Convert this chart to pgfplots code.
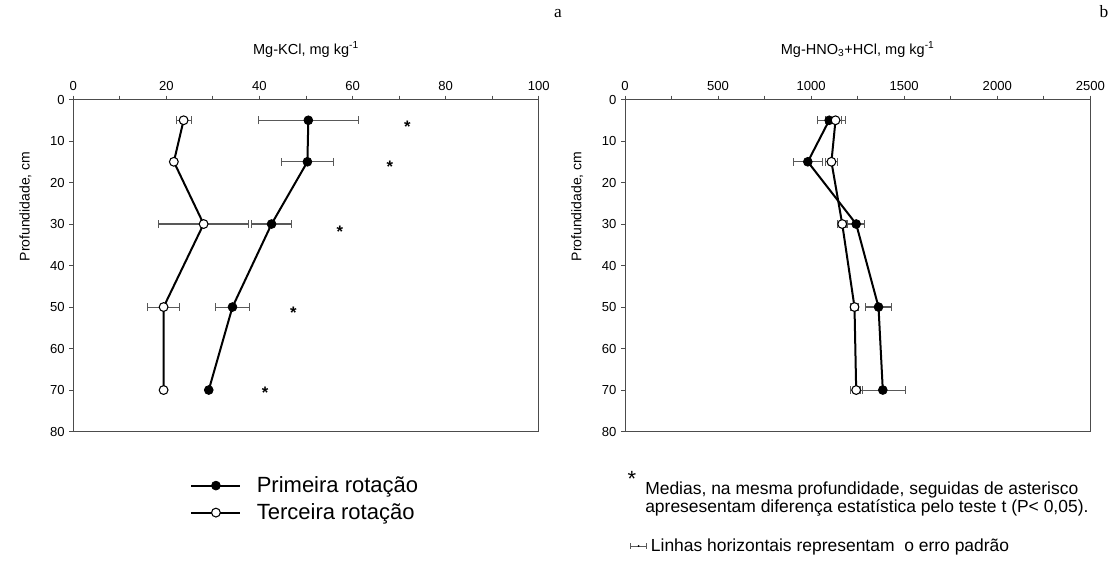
\documentclass[border=0pt]{standalone}
\usepackage{fontspec}
\setmainfont{Liberation Sans}
\newfontfamily\seriffont{Liberation Serif}
\usepackage{pgfplots}
\usepackage{pgfplotstable}
\pgfplotsset{compat=1.18}
\usetikzlibrary{plotmarks}

\pgfplotstableread{
y x e
5 50.5 10.8
15 50.3 5.6
30 42.6 4.3
50 34.2 3.7
70 29.1 0.4
}\aPrim
\pgfplotstableread{
y x e
5 23.7 1.6
15 21.6 0.3
30 28.0 9.6
50 19.4 3.4
70 19.4 0.3
}\aTerc
\pgfplotstableread{
y x
5.6 71.8
15.4 68.0
31.0 57.3
50.5 47.3
69.8 41.2
}\aStar
\pgfplotstableread{
y x e
5 1097 65
15 982 79
30 1242 45
50 1362 70
70 1385 120
}\bPrim
\pgfplotstableread{
y x e
5 1131 52
15 1109 32
30 1167 25
50 1233 23
70 1242 33
}\bTerc

\pgfplotsset{
  myax/.style={
    scale only axis, width=349pt, height=249pt, anchor=south west,
    y dir=reverse, ymin=0, ymax=80, ytick={0,10,...,80},
    minor x tick num=1,
    xtick pos=right, xticklabel pos=right, ytick pos=left,
    tick align=outside, major tick length=3pt, minor tick length=3pt,
    axis line style={black!70, line width=0.75pt},
    every tick/.style={black!70, line width=0.75pt},
    tick label style={font=\fontsize{9.8}{11}\selectfont},
    /pgf/number format/assume math mode=true,
    /pgf/number format/1000 sep={},
    title style={font=\fontsize{10.9}{12}\selectfont, at={(0.5,1)}, anchor=base, yshift=28pt},
    ylabel={Profundidade, cm},
    ylabel style={font=\fontsize{10.5}{12}\selectfont, at={(axis description cs:-0.103,0.678)}, anchor=center},
    clip=false,
  },
  prim/.style={black, line width=1.5pt, mark=*, mark size=3.3pt, mark options={solid, fill=black, line width=0.6pt}},
  terc/.style={black, line width=1.5pt, mark=*, mark size=3.3pt, mark options={solid, fill=white, line width=0.8pt}},
  eb/.style={error bars/.cd, x dir=both, x explicit,
    error bar style={line width=0.8pt, black!65},
    error mark options={rotate=90, line width=0.8pt, black!65, mark size=3pt}},
  legend image code/.code={\draw[mark repeat=2,mark phase=2,#1] plot coordinates {(0pt,0pt) (18.4pt,0pt) (36.8pt,0pt)};},
}

\begin{document}
\begin{tikzpicture}
\begin{axis}[myax, at={(55pt,98.6pt)},
  xmin=0, xmax=100, xtick={0,20,...,100},
  title={Mg-KCl, mg kg\textsuperscript{-1}},
  legend style={draw=none, fill=none, at={(axis description cs:0.251,-0.127)}, anchor=north west,
    font=\fontsize{16.5}{19}\selectfont, row sep=2.8pt, inner sep=0pt,
    /tikz/every odd column/.append style={column sep=9.5pt}},
  legend cell align=left,
]
\addplot[prim, eb] table[x=x, y=y, x error=e] {\aPrim};
\addlegendentry{Primeira rotação}
\addplot[terc, eb] table[x=x, y=y, x error=e] {\aTerc};
\addlegendentry{Terceira rotação}
\addplot[only marks, mark=text, text mark={*}, text mark as node=true,
  text mark style={font=\fontsize{12.5}{13}\selectfont\bfseries, inner sep=0pt, anchor=center, yshift=-2.7pt},
  forget plot] table[x=x, y=y] {\aStar};
\end{axis}
\begin{axis}[myax, at={(468.75pt,98.6pt)},
  xmin=0, xmax=2500, xtick={0,500,...,2500},
  title={Mg-HNO\textsubscript{3}+HCl, mg kg\textsuperscript{-1}},
]
\addplot[prim, eb] table[x=x, y=y, x error=e] {\bPrim};
\addplot[terc, eb] table[x=x, y=y, x error=e] {\bTerc};
\end{axis}

\node[font=\seriffont\fontsize{13}{14}\selectfont, anchor=base] at (418.5pt,408.75pt) {a};
\node[font=\seriffont\fontsize{13}{14}\selectfont, anchor=base] at (828pt,408.75pt) {b};

\node[font=\fontsize{16.5}{17}\selectfont, anchor=center, inner sep=0pt] at (474pt,63pt) {*};
\node[font=\fontsize{13.1}{14}\selectfont, anchor=base west, inner sep=0pt] at (483.75pt,51pt) {Medias, na mesma profundidade, seguidas de asterisco};
\node[font=\fontsize{13.1}{14}\selectfont, anchor=base west, inner sep=0pt] at (483.75pt,37.5pt) {apresesentam diferença estatística pelo teste t (P< 0,05).};
\node[font=\fontsize{13.1}{14}\selectfont, anchor=base west, inner sep=0pt] at (488pt,8.25pt) {Linhas horizontais representam\ \ o erro padrão};
\draw[black!65, line width=0.6pt] (473pt,12.75pt) -- (485pt,12.75pt);
\draw[black!65, line width=0.6pt] (473pt,10.75pt) -- (473pt,14.75pt);
\draw[black!65, line width=0.6pt] (485pt,10.75pt) -- (485pt,14.75pt);
\fill[black] (479pt,12.75pt) circle (0.8pt);

\pgfresetboundingbox
\path[use as bounding box] (0,0) rectangle (834.75pt,422.25pt);
\end{tikzpicture}
\end{document}
